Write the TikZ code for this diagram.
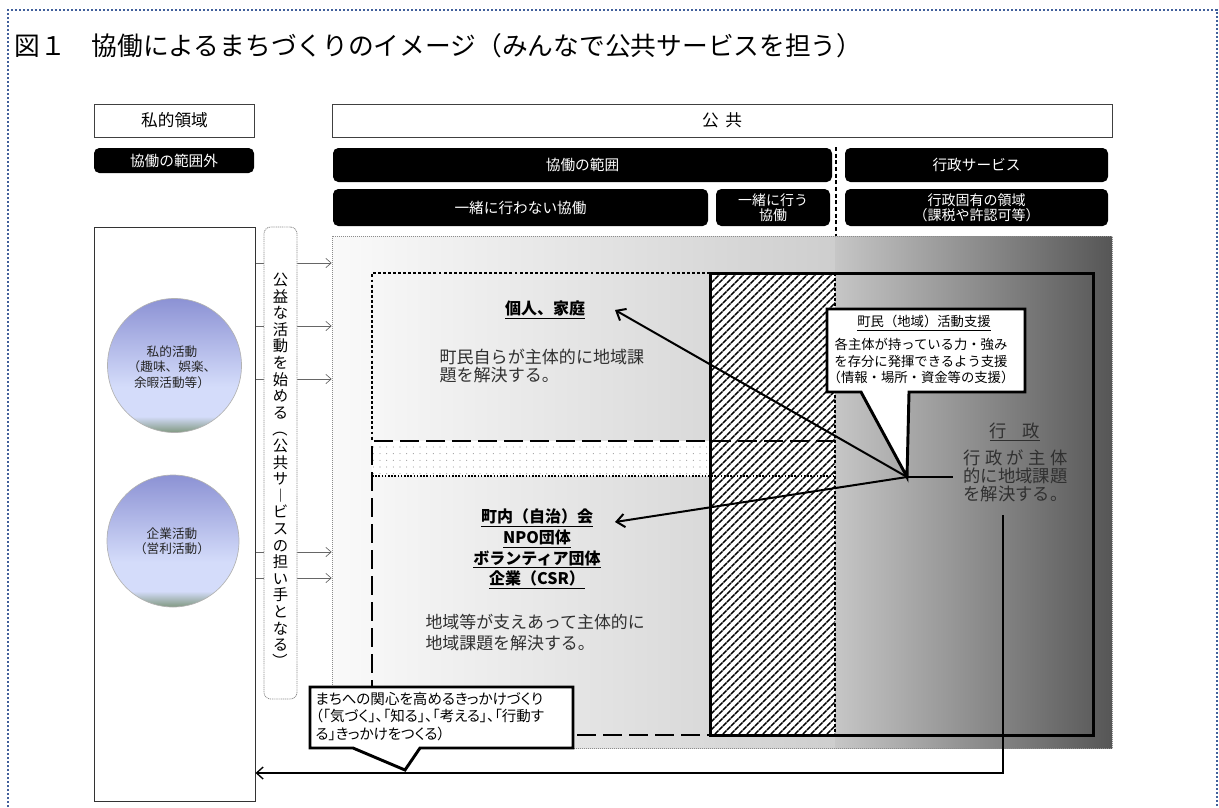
\documentclass[tikz,border=0pt]{standalone}
\usepackage{fontspec}
\usepackage{graphicx}
\setmainfont{Noto Sans CJK JP}
\newfontfamily\propfont[RawFeature=+palt]{Noto Sans CJK JP}
\usetikzlibrary{arrows.meta,patterns.meta}

\definecolor{framecol}{RGB}{66,96,156}
\definecolor{orbtop}{RGB}{140,146,212}
\definecolor{orblight}{RGB}{212,220,250}
\definecolor{orbbottom}{RGB}{128,152,128}
\definecolor{gleft}{RGB}{250,250,250}
\definecolor{gmid}{RGB}{206,206,206}
\definecolor{gmidb}{RGB}{198,198,198}
\definecolor{gright}{RGB}{86,86,86}
\definecolor{inktext}{RGB}{48,48,48}

\pgfdeclareverticalshading{orbshade}{100bp}{color(0bp)=(orbbottom); color(25bp)=(orbbottom); color(31bp)=(orblight); color(42bp)=(orblight); color(75bp)=(orbtop); color(100bp)=(orbtop)}

\newcommand\vparen[1]{\rotatebox[origin=c]{-90}{#1}}

\tikzset{every picture/.style={line width=0.75pt}}
\tikzset{
  plainbox/.style={draw=black!75, fill=white, inner sep=0pt, font=\fontsize{12.5}{15}\selectfont},
  darkbox/.style={fill=black, rounded corners=4pt, text=white, inner sep=0pt, align=center, font=\fontsize{11}{12}\selectfont},
  orbtext/.style={align=center, inner sep=0.75pt, text=black!85, font=\fontsize{9.5}{11.6}\selectfont},
  feedline/.style={draw=black!60, line width=0.5pt, -{Straight Barb[length=4pt,width=7pt]}},
  vbox/.style={draw=black!45, fill=white, rounded corners=5pt, line width=0.6pt, dash pattern=on 0.8pt off 0.6pt, inner sep=0pt},
  vtext/.style={align=center, inner sep=0pt, font=\fontsize{11.5}{12.45}\selectfont},
  areatext/.style={text=inktext, inner sep=0.75pt, align=left, font=\fontsize{12.8}{13.5}\selectfont},
  headtext/.style={inner sep=0.75pt, align=center, font=\bfseries\fontsize{12}{15.5}\selectfont},
  calloutline/.style={draw=black, fill=white, line width=2.2pt},
  notetext/.style={inner sep=0.75pt, align=center, font=\fontsize{10}{12.4}\selectfont},
  pointer/.style={line width=1.5pt, -{Straight Barb[length=6pt,width=10pt]}},
  backline/.style={line width=1pt, -{Straight Barb[length=5pt,width=9pt]}},
  dotline/.style={line width=2.2pt, dash pattern=on 2.2pt off 1.6pt},
  thindots/.style={line width=1.2pt, dash pattern=on 1.2pt off 1.2pt},
  dashline/.style={line width=2pt, dash pattern=on 14pt off 5.5pt}
}

\begin{document}
\begin{tikzpicture}[x=0.75pt,y=0.75pt,yscale=-1,xscale=1]
\useasboundingbox (0,0) rectangle (1219,807);

%Shape: Frame
\draw [framecol, line width=1.6pt, dash pattern=on 1.8pt off 1.2pt] (8,807) -- (8,10) -- (1217,10) -- (1217,807) ;

% Text Node
\node [anchor=west, inner sep=0pt, font=\fontsize{19.3}{22}\selectfont] (title) at (14,46) {図１　協働によるまちづくりのイメージ（みんなで公共サービスを担う）};

% Header boxes
\node [plainbox, minimum width=120pt, minimum height=24.75pt] (private) at (174.5,120.5) {私的領域};
\node [plainbox, minimum width=585pt, minimum height=24.75pt] (public) at (722,120.5) {公\hspace{0.4em}共};
\node [darkbox, minimum width=120pt, minimum height=18.75pt] (outside) at (174,160.5) {協働の範囲外};
\node [darkbox, minimum width=374.25pt, minimum height=25.5pt] (scope) at (582.5,165) {協働の範囲};
\node [darkbox, minimum width=197.25pt, minimum height=25.5pt] (service) at (976.5,165) {行政サービス};
\node [darkbox, minimum width=281.25pt, minimum height=27.75pt] (apart) at (520.5,207.5) {一緒に行わない協働};
\node [darkbox, minimum width=85.5pt, minimum height=27.75pt, font=\fontsize{10.5}{11}\selectfont] (joint) at (773,207.5) {一緒に行う\\協働};
\node [darkbox, minimum width=197.25pt, minimum height=27.75pt, font=\fontsize{10.5}{11.5}\selectfont] (proper) at (976.5,207.5) {行政固有の領域\\（課税や許認可等）};
%Straight Lines
\draw [line width=1.2pt, dash pattern=on 3pt off 2pt] (836,147) -- (836,262) ;

% Left column
\node [draw=black!80, minimum width=120.75pt, minimum height=430.5pt, inner sep=0pt] (actbox) at (174.5,514) {};
%Shape: Circle
\shade [shading=orbshade, draw=black!30, line width=0.5pt] (174.5,365.5) circle (67) ;
\node [orbtext] (privact) at (172,367) {私的活動\\（趣味、娯楽、\\余暇活動等）};
%Shape: Circle
\shade [shading=orbshade, draw=black!30, line width=0.5pt] (173,541) circle (66) ;
\node [orbtext] (bizact) at (172,541) {企業活動\\（営利活動）};

% Shaded area
\shade [left color=gleft, right color=gmid] (332,236) rectangle (835,748) ;
\shade [left color=gmidb, right color=gright] (835,236) rectangle (1112,748) ;
\node [draw=black!45, line width=0.5pt, dash pattern=on 0.75pt off 0.75pt, minimum width=585pt, minimum height=384pt, inner sep=0pt] (area) at (722,492) {};

% Feed arrows
\draw [feedline] (actbox.east |- 0,263) -- (area.west |- 0,263) ;
\draw [feedline] (actbox.east |- 0,326) -- (area.west |- 0,326) ;
\draw [feedline] (actbox.east |- 0,379) -- (area.west |- 0,379) ;
\draw [feedline] (actbox.east |- 0,552) -- (area.west |- 0,552) ;
\draw [feedline] (actbox.east |- 0,578) -- (area.west |- 0,578) ;
\node [vbox, minimum width=24.75pt, minimum height=354pt] (vframe) at (280.5,463) {};
\node [vtext] (vlabel) at (280.5,471) {公\\益\\な\\活\\動\\を\\始\\め\\る\\\vparen{（}\\公\\共\\サ\\︱\\ビ\\ス\\の\\担\\い\\手\\と\\な\\る\\\vparen{）}};

% Band fills
\fill [white] (372,441) rectangle (710,476) ;
\fill [pattern={Dots[distance=5pt,radius=0.4pt]}, pattern color=black!45] (372,441) rectangle (710,476) ;
\fill [white] (710,273) rectangle (835,735) ;
\fill [pattern={Lines[angle=45,distance=4pt,line width=1.3pt]}] (710,273) rectangle (835,735) ;

% Outlines
\draw [dotline] (710,273) -- (372,273) -- (372,441) ;
\draw [dotline] (835,273) -- (835,735) ;
\draw [thindots] (372,476) -- (835,476) ;
\draw [dashline] (835,441) -- (372,441) -- (372,735) -- (710,735) ;
\draw [line width=2.25pt] (710,273) rectangle (1093,735) ;

% Text Node
\node [headtext] (family) at (545,310) {\underline{個人、家庭}};
\node [areatext, anchor=west] (familytxt) at (438,366) {町民自らが主体的に地域課\\題を解決する。};
\node [headtext] (groups) at (537,549) {\underline{町内（自治）会}\\\underline{NPO団体}\\\underline{ボランティア団体}\\\underline{企業（CSR）}};
\node [areatext, anchor=west, font=\fontsize{12.7}{15.75}\selectfont] (groupstxt) at (424,632.5) {地域等が支えあって主体的に\\地域課題を解決する。};
\node [headtext, text=inktext, font=\fontsize{13}{15}\selectfont] (gov) at (1015,432) {\underline{行\hspace{0.9em}政}};
\node [areatext, anchor=west, font=\fontsize{13}{13.5}\selectfont] (govtxt) at (962,476) {行\hspace{0.25em}政\hspace{0.25em}が\hspace{0.25em}主\hspace{0.25em}体\\的に地域課題\\を解決する。};

%Shape: Callout
\draw [calloutline] (827,309) -- (1025,309) -- (1025,392) -- (909,392) -- (907,477) -- (861,392) -- (827,392) -- cycle ;
\coordinate (tip) at (907,477) ;
\node [notetext] (supporthead) at (924,323) {\underline{町民（地域）活動支援}};
\node [notetext] (supporttxt) at (921,361) {各主体が持っている力・強み\\を存分に発揮できるよう支援\\（情報・場所・資金等の支援）};

% Pointers
\coordinate (familyend) at (615,310) ;
\coordinate (groupsend) at (615,522) ;
\coordinate (govend) at (953,477) ;
\draw [pointer] (tip) -- (familyend) ;
\draw [pointer] (tip) -- (groupsend) ;
\draw [line width=1.5pt] (tip) -- (govend) ;

% Return arrow
\coordinate (retstart) at (1003,515) ;
\draw [backline] (retstart) |- (actbox.east |- 0,773) ;

%Shape: Callout
\draw [calloutline] (310,687) -- (573,687) -- (573,748) -- (420,748) -- (405,770) -- (353,748) -- (310,748) -- cycle ;
\node [notetext, anchor=west, align=left, font=\propfont\fontsize{10.9}{13.2}\selectfont] (trigger) at (314,716.5) {まちへの関心を高めるきっかけづくり\\（「気づく」、「知る」、「考える」、「行動す\\る」きっかけをつくる）};
\end{tikzpicture}
\end{document}
